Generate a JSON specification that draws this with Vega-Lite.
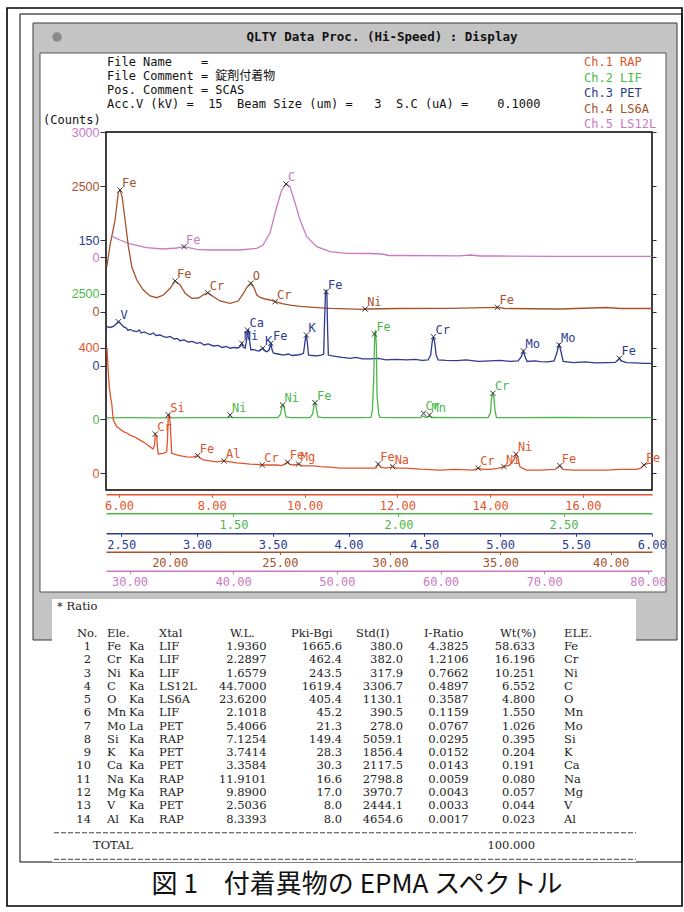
{
"$schema": "https://vega.github.io/schema/vega-lite/v6.json",
"width": 546, "height": 358,
"autosize": {"type": "none"},
"padding": {"left": 106, "top": 132, "right": 32, "bottom": 422},
"background": "white",
"config": {"view": {"stroke": null}},
"resolve": {"scale": {"x": "independent", "y": "independent", "color": "independent"}, "axis": {"x": "independent", "y": "independent"}},
"layer": [
{"data": {"values": [{}]}, "mark": {"type": "rect", "x": -99, "y": -124, "x2": 576, "y2": 774, "fillOpacity": 0, "stroke": "#000", "strokeWidth": 1.6}, "encoding": {}},
{"data": {"values": [{}]}, "mark": {"type": "rect", "x": -86, "y": -118, "x2": 576, "y2": 730, "fillOpacity": 0, "stroke": "#000", "strokeWidth": 1}, "encoding": {}},
{"data": {"values": [{}]}, "mark": {"type": "rect", "x": -73, "y": -109, "x2": 571, "y2": 508, "fill": "#c4c4c4", "stroke": "#3a3a3a", "strokeWidth": 1}, "encoding": {}},
{"data": {"values": [{}]}, "mark": {"type": "rule", "x": -73, "x2": 571, "y": -80, "y2": -80, "color": "#777", "strokeWidth": 1}, "encoding": {}},
{"data": {"values": [{}]}, "mark": {"type": "rect", "x": -66, "y": -79, "x2": 560, "y2": 460, "fill": "white", "stroke": "#555", "strokeWidth": 1}, "encoding": {}},
{"data": {"values": [{}]}, "mark": {"type": "point", "shape": "circle", "x": -49, "y": -95, "size": 90, "filled": true, "color": "#8a8a8a", "opacity": 1}, "encoding": {}},
{"data": {"values": [{}]}, "mark": {"type": "rect", "x": -54, "y": 467, "x2": 530, "y2": 730, "fill": "white"}, "encoding": {}},
{"data": {"values": [{}]}, "mark": {"type": "rule", "x": -99, "x2": 576, "y": 730, "y2": 730, "color": "#000", "strokeWidth": 1.4}, "encoding": {}},
{"data": {"values": [{}]}, "mark": {"type": "rule", "x": -99, "x2": 576, "y": 734, "y2": 734, "color": "#000", "strokeWidth": 1.4}, "encoding": {}},
{"data": {"values": [{}]}, "mark": {"type": "rect", "x": 0, "y": 0, "x2": 546, "y2": 358, "fill": "white", "stroke": "#000", "strokeWidth": 1.5}, "encoding": {}},

{"data": {"values": [{"cnt": 0}]}, "mark": {"type": "point", "opacity": 0},
 "encoding": {"y": {"field": "cnt", "type": "quantitative", "scale": {"domain": [-5592, 3000], "nice": false, "zero": false}, "axis": {"orient": "right", "values": [0, 3000], "labels": false, "domain": false, "grid": false, "title": null, "tickColor": "#333", "tickSize": 4, "zindex": 2}}}},
{"data": {"values": [{"cnt": 0}]}, "mark": {"type": "point", "opacity": 0},
 "encoding": {"y": {"field": "cnt", "type": "quantitative", "scale": {"domain": [-3545.8, 3585.6], "nice": false, "zero": false}, "axis": {"orient": "right", "values": [0, 2500], "labels": false, "domain": false, "grid": false, "title": null, "tickColor": "#333", "tickSize": 4, "zindex": 2}}}},
{"data": {"values": [{"cnt": 0}]}, "mark": {"type": "point", "opacity": 0},
 "encoding": {"y": {"field": "cnt", "type": "quantitative", "scale": {"domain": [-148.2, 279.6], "nice": false, "zero": false}, "axis": {"orient": "right", "values": [0, 150], "labels": false, "domain": false, "grid": false, "title": null, "tickColor": "#333", "tickSize": 4, "zindex": 2}}}},
{"data": {"values": [{"cnt": 0}]}, "mark": {"type": "point", "opacity": 0},
 "encoding": {"y": {"field": "cnt", "type": "quantitative", "scale": {"domain": [-1404.4, 5727], "nice": false, "zero": false}, "axis": {"orient": "right", "values": [0, 2500], "labels": false, "domain": false, "grid": false, "title": null, "tickColor": "#333", "tickSize": 4, "zindex": 2}}}},
{"data": {"values": [{"cnt": 0}]}, "mark": {"type": "point", "opacity": 0},
 "encoding": {"y": {"field": "cnt", "type": "quantitative", "scale": {"domain": [-52.4, 1084.3], "nice": false, "zero": false}, "axis": {"orient": "right", "values": [0, 400], "labels": false, "domain": false, "grid": false, "title": null, "tickColor": "#333", "tickSize": 4, "zindex": 2}}}},

{"encoding": {
  "x": {"field": "wl", "type": "quantitative", "scale": {"domain": [27.73, 80.4], "nice": false, "zero": false},
        "axis": {"orient": "bottom", "offset": 80.7, "values": [30, 40, 50, 60, 70, 80], "format": ".2f", "title": null, "grid": false, "domainColor": "#c97ac4", "domainWidth": 1.5, "tickColor": "#c97ac4", "tickSize": 3, "labelColor": "#c97ac4", "labelFont": "DejaVu Sans Mono", "labelFontSize": 12, "labelPadding": 3, "labelFlush": false, "labelOverlap": false, "zindex": 2}},
  "y": {"field": "cnt", "type": "quantitative", "scale": {"domain": [-5592, 3000], "nice": false, "zero": false},
        "axis": {"orient": "left", "values": [0, 3000], "format": "d", "title": null, "grid": false, "domain": false, "tickColor": "#333", "tickSize": 6, "labelColor": "#c97ac4", "labelFont": "Liberation Sans", "labelFontSize": 12.5, "labelPadding": 1, "labelFlush": false, "labelOverlap": false, "zindex": 2}}},
 "layer": [
  {"data": {"values": [
   {"wl":28.38,"cnt":487},{"wl":29.08,"cnt":408},{"wl":30.05,"cnt":312},{"wl":31.66,"cnt":223},{"wl":33.23,"cnt":192},{"wl":34.55,"cnt":216},{"wl":35.26,"cnt":247},{"wl":36.48,"cnt":185},{"wl":37.77,"cnt":168},{"wl":39.70,"cnt":168},{"wl":40.66,"cnt":168},{"wl":42.27,"cnt":209},{"wl":42.88,"cnt":288},{"wl":43.55,"cnt":576},{"wl":44.20,"cnt":1207},{"wl":44.68,"cnt":1608},{"wl":45.10,"cnt":1752},{"wl":45.48,"cnt":1687},{"wl":45.97,"cnt":1296},{"wl":46.45,"cnt":888},{"wl":47.09,"cnt":487},{"wl":48.06,"cnt":247},{"wl":49.34,"cnt":127},{"wl":50.95,"cnt":89},{"wl":53.2,"cnt":84},{"wl":54.36,"cnt":72},{"wl":55.0,"cnt":36},{"wl":56.09,"cnt":36},{"wl":61.88,"cnt":29},{"wl":62.85,"cnt":48},{"wl":63.8,"cnt":24},{"wl":65.73,"cnt":24},{"wl":71.5,"cnt":17},{"wl":77.3,"cnt":17},{"wl":80.4,"cnt":17}]},
   "mark": {"type": "line", "color": "#c97ac4", "strokeWidth": 1.3}},
  {"data": {"values": [{"wl":35.258,"cnt":247,"el":"Fe"},{"wl":45.098,"cnt":1752,"el":"C"}]},
   "layer": [
    {"mark": {"type": "point", "shape": "M-1,-1L1,1M-1,1L1,-1", "filled": false, "stroke": "#333", "strokeWidth": 1, "size": 28, "opacity": 1}},
    {"mark": {"type": "text", "align": "left", "baseline": "middle", "dx": 2, "dy": -7, "font": "DejaVu Sans Mono", "fontSize": 12, "color": "#c97ac4"}, "encoding": {"text": {"field": "el"}}}]}
 ]},

{"encoding": {
  "x": {"field": "wl", "type": "quantitative", "scale": {"domain": [17.11, 41.88], "nice": false, "zero": false},
        "axis": {"orient": "bottom", "offset": 61.7, "values": [20, 25, 30, 35, 40], "format": ".2f", "title": null, "grid": false, "domainColor": "#a5532c", "domainWidth": 1.5, "tickColor": "#a5532c", "tickSize": 3, "labelColor": "#a5532c", "labelFont": "DejaVu Sans Mono", "labelFontSize": 12, "labelPadding": 3, "labelFlush": false, "labelOverlap": false, "zindex": 2}},
  "y": {"field": "cnt", "type": "quantitative", "scale": {"domain": [-3545.8, 3585.6], "nice": false, "zero": false},
        "axis": {"orient": "left", "values": [0, 2500], "format": "d", "title": null, "grid": false, "domain": false, "tickColor": "#333", "tickSize": 6, "labelColor": "#a5532c", "labelFont": "Liberation Sans", "labelFontSize": 12.5, "labelPadding": 1, "labelFlush": false, "labelOverlap": false, "zindex": 2}}},
 "layer": [
  {"data": {"values": [
   {"wl":17.146,"cnt":902},{"wl":17.296,"cnt":1335},{"wl":17.523,"cnt":1833},{"wl":17.672,"cnt":2396},{"wl":17.75,"cnt":2430},{"wl":17.84,"cnt":2297},{"wl":17.976,"cnt":1833},{"wl":18.126,"cnt":1301},{"wl":18.28,"cnt":902},{"wl":18.507,"cnt":637},{"wl":18.807,"cnt":438},{"wl":19.111,"cnt":319},{"wl":19.415,"cnt":285},{"wl":19.714,"cnt":339},{"wl":20.018,"cnt":472},{"wl":20.245,"cnt":618},{"wl":20.472,"cnt":538},{"wl":20.699,"cnt":373},{"wl":21.003,"cnt":273},{"wl":21.302,"cnt":279},{"wl":21.515,"cnt":339},{"wl":21.729,"cnt":384},{"wl":21.983,"cnt":305},{"wl":22.287,"cnt":219},{"wl":22.74,"cnt":173},{"wl":23.103,"cnt":219},{"wl":23.33,"cnt":359},{"wl":23.512,"cnt":498},{"wl":23.68,"cnt":572},{"wl":23.829,"cnt":478},{"wl":23.952,"cnt":339},{"wl":24.102,"cnt":289},{"wl":24.328,"cnt":259},{"wl":24.555,"cnt":239},{"wl":24.782,"cnt":205},{"wl":25.1,"cnt":169},{"wl":25.463,"cnt":139},{"wl":25.917,"cnt":114},{"wl":26.52,"cnt":94},{"wl":27.278,"cnt":74},{"wl":28.775,"cnt":54},{"wl":28.866,"cnt":60},{"wl":30.454,"cnt":70},{"wl":32.722,"cnt":74},{"wl":34.868,"cnt":94},{"wl":35.218,"cnt":70},{"wl":37.713,"cnt":60},{"wl":39.832,"cnt":90},{"wl":40.436,"cnt":70},{"wl":41.887,"cnt":70}]},
   "mark": {"type": "line", "color": "#a5532c", "strokeWidth": 1.3}},
  {"data": {"values": [{"wl":17.75,"cnt":2430,"el":"Fe"},{"wl":20.245,"cnt":618,"el":"Fe"},{"wl":21.729,"cnt":384,"el":"Cr"},{"wl":23.68,"cnt":572,"el":"O"},{"wl":24.782,"cnt":205,"el":"Cr"},{"wl":28.866,"cnt":60,"el":"Ni"},{"wl":34.868,"cnt":94,"el":"Fe"}]},
   "layer": [
    {"mark": {"type": "point", "shape": "M-1,-1L1,1M-1,1L1,-1", "filled": false, "stroke": "#333", "strokeWidth": 1, "size": 28, "opacity": 1}},
    {"mark": {"type": "text", "align": "left", "baseline": "middle", "dx": 2, "dy": -7, "font": "DejaVu Sans Mono", "fontSize": 12, "color": "#a5532c"}, "encoding": {"text": {"field": "el"}}}]}
 ]},

{"encoding": {
  "x": {"field": "wl", "type": "quantitative", "scale": {"domain": [2.40, 6.002], "nice": false, "zero": false},
        "axis": {"orient": "bottom", "offset": 43.3, "values": [2.5, 3, 3.5, 4, 4.5, 5, 5.5, 6], "format": ".2f", "title": null, "grid": false, "domainColor": "#2d3a8e", "domainWidth": 1.5, "tickColor": "#2d3a8e", "tickSize": 3, "labelColor": "#2d3a8e", "labelFont": "DejaVu Sans Mono", "labelFontSize": 12, "labelPadding": 3, "labelFlush": false, "labelOverlap": false, "zindex": 2}},
  "y": {"field": "cnt", "type": "quantitative", "scale": {"domain": [-148.2, 279.6], "nice": false, "zero": false},
        "axis": {"orient": "left", "values": [0, 150], "format": "d", "title": null, "grid": false, "domain": false, "tickColor": "#333", "tickSize": 6, "labelColor": "#2d3a8e", "labelFont": "Liberation Sans", "labelFontSize": 12.5, "labelPadding": 1, "labelFlush": false, "labelOverlap": false, "zindex": 2}}},
 "layer": [
  {"data": {"values": [
   {"wl":2.406,"cnt":47.0},{"wl":2.427,"cnt":46.0},{"wl":2.449,"cnt":47.2},{"wl":2.467,"cnt":50.2},{"wl":2.482,"cnt":52.9},{"wl":2.493,"cnt":51.4},{"wl":2.515,"cnt":47.0},{"wl":2.533,"cnt":45.4},{"wl":2.546,"cnt":42.4},{"wl":2.559,"cnt":43.6},{"wl":2.579,"cnt":41.8},{"wl":2.604,"cnt":41.0},{"wl":2.619,"cnt":43.0},{"wl":2.632,"cnt":39.4},{"wl":2.652,"cnt":40.6},{"wl":2.670,"cnt":39.1},{"wl":2.691,"cnt":37.6},{"wl":2.711,"cnt":39.4},{"wl":2.731,"cnt":36.4},{"wl":2.757,"cnt":37.0},{"wl":2.779,"cnt":35.0},{"wl":2.803,"cnt":34.1},{"wl":2.823,"cnt":35.3},{"wl":2.850,"cnt":32.3},{"wl":2.869,"cnt":32.9},{"wl":2.889,"cnt":30.2},{"wl":2.916,"cnt":31.1},{"wl":2.942,"cnt":28.7},{"wl":2.968,"cnt":29.3},{"wl":2.999,"cnt":27.1},{"wl":3.021,"cnt":28.1},{"wl":3.048,"cnt":25.1},{"wl":3.074,"cnt":26.3},{"wl":3.109,"cnt":23.9},{"wl":3.140,"cnt":24.5},{"wl":3.166,"cnt":22.1},{"wl":3.193,"cnt":23.3},{"wl":3.219,"cnt":21.2},{"wl":3.245,"cnt":22.1},{"wl":3.272,"cnt":21.5},{"wl":3.288,"cnt":23.9},{"wl":3.296,"cnt":27.1},{"wl":3.305,"cnt":22.7},{"wl":3.318,"cnt":21.2},{"wl":3.328,"cnt":31.1},{"wl":3.334,"cnt":41.8},{"wl":3.340,"cnt":43.0},{"wl":3.346,"cnt":31.1},{"wl":3.356,"cnt":19.1},{"wl":3.371,"cnt":19.7},{"wl":3.395,"cnt":18.3},{"wl":3.410,"cnt":17.9},{"wl":3.424,"cnt":20.3},{"wl":3.435,"cnt":21.2},{"wl":3.443,"cnt":18.5},{"wl":3.461,"cnt":17.1},{"wl":3.476,"cnt":19.1},{"wl":3.488,"cnt":27.1},{"wl":3.496,"cnt":19.1},{"wl":3.505,"cnt":15.2},{"wl":3.536,"cnt":14.3},{"wl":3.571,"cnt":13.1},{"wl":3.602,"cnt":14.3},{"wl":3.628,"cnt":12.5},{"wl":3.659,"cnt":13.1},{"wl":3.681,"cnt":13.7},{"wl":3.703,"cnt":15.2},{"wl":3.710,"cnt":25.1},{"wl":3.717,"cnt":34.7},{"wl":3.722,"cnt":37.0},{"wl":3.728,"cnt":28.7},{"wl":3.736,"cnt":13.1},{"wl":3.760,"cnt":12.5},{"wl":3.791,"cnt":12.0},{"wl":3.819,"cnt":13.1},{"wl":3.836,"cnt":14.3},{"wl":3.842,"cnt":55.0},{"wl":3.848,"cnt":87.2},{"wl":3.852,"cnt":90.8},{"wl":3.857,"cnt":87.2},{"wl":3.862,"cnt":43.0},{"wl":3.867,"cnt":13.1},{"wl":3.892,"cnt":12.0},{"wl":3.923,"cnt":11.1},{"wl":3.958,"cnt":10.2},{"wl":4.011,"cnt":9.2},{"wl":4.050,"cnt":10.2},{"wl":4.090,"cnt":8.4},{"wl":4.143,"cnt":8.4},{"wl":4.195,"cnt":9.0},{"wl":4.248,"cnt":7.2},{"wl":4.307,"cnt":7.8},{"wl":4.385,"cnt":7.2},{"wl":4.439,"cnt":7.8},{"wl":4.486,"cnt":6.6},{"wl":4.525,"cnt":7.2},{"wl":4.542,"cnt":13.1},{"wl":4.552,"cnt":28.7},{"wl":4.560,"cnt":35.0},{"wl":4.568,"cnt":28.7},{"wl":4.578,"cnt":13.1},{"wl":4.591,"cnt":7.2},{"wl":4.644,"cnt":6.6},{"wl":4.714,"cnt":6.3},{"wl":4.776,"cnt":7.2},{"wl":4.855,"cnt":5.4},{"wl":4.934,"cnt":6.0},{"wl":5.000,"cnt":6.6},{"wl":5.066,"cnt":5.4},{"wl":5.119,"cnt":6.0},{"wl":5.139,"cnt":10.8},{"wl":5.154,"cnt":17.9},{"wl":5.165,"cnt":10.8},{"wl":5.178,"cnt":5.4},{"wl":5.231,"cnt":6.0},{"wl":5.264,"cnt":5.1},{"wl":5.317,"cnt":4.8},{"wl":5.356,"cnt":6.0},{"wl":5.376,"cnt":16.7},{"wl":5.389,"cnt":27.1},{"wl":5.402,"cnt":16.7},{"wl":5.416,"cnt":5.4},{"wl":5.484,"cnt":3.9},{"wl":5.561,"cnt":4.8},{"wl":5.627,"cnt":3.6},{"wl":5.704,"cnt":3.9},{"wl":5.759,"cnt":4.2},{"wl":5.778,"cnt":7.2},{"wl":5.787,"cnt":9.2},{"wl":5.798,"cnt":6.0},{"wl":5.836,"cnt":3.9},{"wl":5.891,"cnt":3.6},{"wl":5.945,"cnt":3.2},{"wl":6.000,"cnt":3.2}]},
   "mark": {"type": "line", "color": "#2d3a8e", "strokeWidth": 1.3}},
  {"data": {"values": [{"wl":2.482,"cnt":52.9,"el":"V"},{"wl":3.296,"cnt":27.1,"el":"Ni"},{"wl":3.333,"cnt":43.0,"el":"Ca"},{"wl":3.435,"cnt":21.2,"el":"K"},{"wl":3.488,"cnt":27.1,"el":"Fe"},{"wl":3.722,"cnt":37.0,"el":"K"},{"wl":3.852,"cnt":88.8,"el":"Fe"},{"wl":4.560,"cnt":35.0,"el":"Cr"},{"wl":5.154,"cnt":17.9,"el":"Mo"},{"wl":5.389,"cnt":25.1,"el":"Mo"},{"wl":5.787,"cnt":9.2,"el":"Fe"}]},
   "layer": [
    {"mark": {"type": "point", "shape": "M-1,-1L1,1M-1,1L1,-1", "filled": false, "stroke": "#333", "strokeWidth": 1, "size": 28, "opacity": 1}},
    {"mark": {"type": "text", "align": "left", "baseline": "middle", "dx": 2, "dy": -7, "font": "DejaVu Sans Mono", "fontSize": 12, "color": "#2d3a8e"}, "encoding": {"text": {"field": "el"}}}]}
 ]},

{"encoding": {
  "x": {"field": "wl", "type": "quantitative", "scale": {"domain": [1.114, 2.768], "nice": false, "zero": false},
        "axis": {"orient": "bottom", "offset": 23.3, "values": [1.5, 2.0, 2.5], "format": ".2f", "title": null, "grid": false, "domainColor": "#4cb84a", "domainWidth": 1.5, "tickColor": "#4cb84a", "tickSize": 3, "labelColor": "#4cb84a", "labelFont": "DejaVu Sans Mono", "labelFontSize": 12, "labelPadding": 3, "labelFlush": false, "labelOverlap": false, "zindex": 2}},
  "y": {"field": "cnt", "type": "quantitative", "scale": {"domain": [-1404.4, 5727], "nice": false, "zero": false},
        "axis": {"orient": "left", "values": [0, 2500], "format": "d", "title": null, "grid": false, "domain": false, "tickColor": "#333", "tickSize": 6, "labelColor": "#4cb84a", "labelFont": "Liberation Sans", "labelFontSize": 12.5, "labelPadding": 1, "labelFlush": false, "labelOverlap": false, "zindex": 2}}},
 "layer": [
  {"data": {"values": [
   {"wl":1.116,"cnt":34},{"wl":1.187,"cnt":36},{"wl":1.278,"cnt":34},{"wl":1.399,"cnt":38},{"wl":1.487,"cnt":40},{"wl":1.490,"cnt":54},{"wl":1.493,"cnt":38},{"wl":1.581,"cnt":38},{"wl":1.635,"cnt":40},{"wl":1.643,"cnt":110},{"wl":1.647,"cnt":269},{"wl":1.651,"cnt":289},{"wl":1.655,"cnt":189},{"wl":1.659,"cnt":50},{"wl":1.672,"cnt":38},{"wl":1.732,"cnt":36},{"wl":1.740,"cnt":110},{"wl":1.745,"cnt":319},{"wl":1.748,"cnt":329},{"wl":1.752,"cnt":189},{"wl":1.756,"cnt":50},{"wl":1.769,"cnt":38},{"wl":1.823,"cnt":36},{"wl":1.884,"cnt":38},{"wl":1.917,"cnt":44},{"wl":1.921,"cnt":189},{"wl":1.925,"cnt":787},{"wl":1.928,"cnt":1703},{"wl":1.930,"cnt":1783},{"wl":1.933,"cnt":1484},{"wl":1.935,"cnt":488},{"wl":1.940,"cnt":110},{"wl":1.944,"cnt":44},{"wl":1.990,"cnt":38},{"wl":2.035,"cnt":38},{"wl":2.066,"cnt":38},{"wl":2.076,"cnt":70},{"wl":2.081,"cnt":44},{"wl":2.094,"cnt":60},{"wl":2.102,"cnt":40},{"wl":2.187,"cnt":38},{"wl":2.272,"cnt":40},{"wl":2.279,"cnt":149},{"wl":2.282,"cnt":428},{"wl":2.286,"cnt":528},{"wl":2.289,"cnt":428},{"wl":2.293,"cnt":149},{"wl":2.297,"cnt":40},{"wl":2.369,"cnt":38},{"wl":2.490,"cnt":40},{"wl":2.611,"cnt":38},{"wl":2.768,"cnt":38}]},
   "mark": {"type": "line", "color": "#4cb84a", "strokeWidth": 1.3}},
  {"data": {"values": [{"wl":1.490,"cnt":90,"el":"Ni"},{"wl":1.649,"cnt":289,"el":"Ni"},{"wl":1.747,"cnt":335,"el":"Fe"},{"wl":1.927,"cnt":1703,"el":"Fe"},{"wl":2.076,"cnt":124,"el":"Cr"},{"wl":2.094,"cnt":90,"el":"Mn"},{"wl":2.286,"cnt":522,"el":"Cr"}]},
   "layer": [
    {"mark": {"type": "point", "shape": "M-1,-1L1,1M-1,1L1,-1", "filled": false, "stroke": "#333", "strokeWidth": 1, "size": 28, "opacity": 1}},
    {"mark": {"type": "text", "align": "left", "baseline": "middle", "dx": 2, "dy": -7, "font": "DejaVu Sans Mono", "fontSize": 12, "color": "#4cb84a"}, "encoding": {"text": {"field": "el"}}}]}
 ]},

{"encoding": {
  "x": {"field": "wl", "type": "quantitative", "scale": {"domain": [5.72, 17.49], "nice": false, "zero": false},
        "axis": {"orient": "bottom", "offset": 4.3, "values": [6, 8, 10, 12, 14, 16], "format": ".2f", "title": null, "grid": false, "domainColor": "#e0552d", "domainWidth": 1.5, "tickColor": "#e0552d", "tickSize": 3, "labelColor": "#e0552d", "labelFont": "DejaVu Sans Mono", "labelFontSize": 12, "labelPadding": 3, "labelFlush": false, "labelOverlap": false, "zindex": 2}},
  "y": {"field": "cnt", "type": "quantitative", "scale": {"domain": [-52.4, 1084.3], "nice": false, "zero": false},
        "axis": {"orient": "left", "values": [0, 400], "format": "d", "title": null, "grid": false, "domain": false, "tickColor": "#333", "tickSize": 6, "labelColor": "#e0552d", "labelFont": "Liberation Sans", "labelFontSize": 12.5, "labelPadding": 1, "labelFlush": false, "labelOverlap": false, "zindex": 2}}},
 "layer": [
  {"data": {"values": [
   {"wl":5.741,"cnt":398},{"wl":5.769,"cnt":322},{"wl":5.791,"cnt":276},{"wl":5.817,"cnt":243},{"wl":5.843,"cnt":223},{"wl":5.877,"cnt":170},{"wl":5.95,"cnt":149},{"wl":6.022,"cnt":141},{"wl":6.093,"cnt":133},{"wl":6.151,"cnt":130},{"wl":6.237,"cnt":122},{"wl":6.345,"cnt":116},{"wl":6.453,"cnt":106},{"wl":6.56,"cnt":97},{"wl":6.668,"cnt":85},{"wl":6.733,"cnt":78},{"wl":6.765,"cnt":90},{"wl":6.782,"cnt":125},{"wl":6.813,"cnt":117},{"wl":6.83,"cnt":81},{"wl":6.847,"cnt":62},{"wl":6.955,"cnt":64},{"wl":7.028,"cnt":69},{"wl":7.045,"cnt":106},{"wl":7.063,"cnt":186},{"wl":7.084,"cnt":189},{"wl":7.106,"cnt":154},{"wl":7.136,"cnt":64},{"wl":7.244,"cnt":59},{"wl":7.336,"cnt":56},{"wl":7.459,"cnt":53},{"wl":7.595,"cnt":52},{"wl":7.696,"cnt":57},{"wl":7.746,"cnt":49},{"wl":7.817,"cnt":43},{"wl":7.961,"cnt":40},{"wl":8.106,"cnt":37},{"wl":8.263,"cnt":40},{"wl":8.392,"cnt":37},{"wl":8.537,"cnt":34},{"wl":8.672,"cnt":32},{"wl":8.823,"cnt":30},{"wl":8.953,"cnt":29},{"wl":9.088,"cnt":27},{"wl":9.254,"cnt":27},{"wl":9.399,"cnt":27},{"wl":9.513,"cnt":25},{"wl":9.636,"cnt":36},{"wl":9.685,"cnt":29},{"wl":9.772,"cnt":27},{"wl":9.873,"cnt":30},{"wl":9.944,"cnt":24},{"wl":10.188,"cnt":24},{"wl":10.332,"cnt":22},{"wl":10.547,"cnt":20},{"wl":10.763,"cnt":17},{"wl":11.086,"cnt":17},{"wl":11.409,"cnt":17},{"wl":11.539,"cnt":17},{"wl":11.588,"cnt":30},{"wl":11.647,"cnt":19},{"wl":11.754,"cnt":17},{"wl":11.899,"cnt":22},{"wl":11.97,"cnt":17},{"wl":12.2,"cnt":17},{"wl":12.487,"cnt":14},{"wl":12.918,"cnt":11},{"wl":13.241,"cnt":13},{"wl":13.636,"cnt":11},{"wl":13.744,"cnt":17},{"wl":13.845,"cnt":13},{"wl":13.996,"cnt":13},{"wl":14.168,"cnt":16},{"wl":14.297,"cnt":22},{"wl":14.427,"cnt":27},{"wl":14.513,"cnt":43},{"wl":14.556,"cnt":61},{"wl":14.588,"cnt":56},{"wl":14.642,"cnt":22},{"wl":14.707,"cnt":16},{"wl":14.787,"cnt":11},{"wl":15.073,"cnt":11},{"wl":15.397,"cnt":13},{"wl":15.504,"cnt":25},{"wl":15.569,"cnt":13},{"wl":15.791,"cnt":11},{"wl":16.151,"cnt":11},{"wl":16.511,"cnt":11},{"wl":16.797,"cnt":13},{"wl":17.157,"cnt":13},{"wl":17.25,"cnt":17},{"wl":17.315,"cnt":27},{"wl":17.401,"cnt":32},{"wl":17.481,"cnt":32}]},
   "mark": {"type": "line", "color": "#e0552d", "strokeWidth": 1.3}},
  {"data": {"values": [{"wl":6.782,"cnt":125,"el":"Cr"},{"wl":7.063,"cnt":186,"el":"Si"},{"wl":7.696,"cnt":57,"el":"Fe"},{"wl":8.263,"cnt":40,"el":"Al"},{"wl":9.088,"cnt":27,"el":"Cr"},{"wl":9.636,"cnt":36,"el":"Fe"},{"wl":9.873,"cnt":30,"el":"Mg"},{"wl":11.588,"cnt":30,"el":"Fe"},{"wl":11.899,"cnt":22,"el":"Na"},{"wl":13.744,"cnt":17,"el":"Cr"},{"wl":14.297,"cnt":22,"el":"Ni"},{"wl":14.556,"cnt":61,"el":"Ni"},{"wl":15.504,"cnt":25,"el":"Fe"},{"wl":17.315,"cnt":27,"el":"Fe"}]},
   "layer": [
    {"mark": {"type": "point", "shape": "M-1,-1L1,1M-1,1L1,-1", "filled": false, "stroke": "#333", "strokeWidth": 1, "size": 28, "opacity": 1}},
    {"mark": {"type": "text", "align": "left", "baseline": "middle", "dx": 2, "dy": -7, "font": "DejaVu Sans Mono", "fontSize": 12, "color": "#e0552d"}, "encoding": {"text": {"field": "el"}}}]}
 ]},

{"data": {"values": [{"t": "QLTY Data Proc. (Hi-Speed) : Display"}]},
 "mark": {"type": "text", "x": 276, "y": -95, "align": "center", "baseline": "middle", "font": "DejaVu Sans Mono", "fontSize": 12.5, "fontWeight": "bold", "color": "#111"},
 "encoding": {"text": {"field": "t"}}},

{"data": {"values": [
  {"i": 0, "t": "File\u00a0Name\u00a0\u00a0\u00a0\u00a0="},
  {"i": 1, "t": "File\u00a0Comment\u00a0=\u00a0錠剤付着物"},
  {"i": 2, "t": "Pos.\u00a0Comment\u00a0=\u00a0SCAS"},
  {"i": 3, "t": "Acc.V\u00a0(kV)\u00a0=\u00a0\u00a015\u00a0\u00a0Beam\u00a0Size\u00a0(um)\u00a0=\u00a0\u00a0\u00a03\u00a0\u00a0S.C\u00a0(uA)\u00a0=\u00a0\u00a0\u00a0\u00a00.1000"}]},
 "mark": {"type": "text", "x": 1, "align": "left", "baseline": "middle", "font": "DejaVu Sans Mono, Noto Sans CJK JP", "fontSize": 12, "color": "#111"},
 "encoding": {"y": {"field": "i", "type": "quantitative", "scale": {"domain": [0, 3], "range": [-70, -28], "nice": false, "zero": false}, "axis": null},
              "text": {"field": "t"}}},

{"data": {"values": [
  {"i": 1, "ch": "Ch.1", "t": "Ch.1\u00a0RAP"},
  {"i": 2, "ch": "Ch.2", "t": "Ch.2\u00a0LIF"},
  {"i": 3, "ch": "Ch.3", "t": "Ch.3\u00a0PET"},
  {"i": 4, "ch": "Ch.4", "t": "Ch.4\u00a0LS6A"},
  {"i": 5, "ch": "Ch.5", "t": "Ch.5\u00a0LS12L"}]},
 "mark": {"type": "text", "x": 478, "align": "left", "baseline": "middle", "font": "DejaVu Sans Mono", "fontSize": 12},
 "encoding": {"y": {"field": "i", "type": "quantitative", "scale": {"domain": [1, 5], "range": [-70, -8], "nice": false, "zero": false}, "axis": null},
              "color": {"field": "ch", "type": "nominal", "scale": {"domain": ["Ch.1", "Ch.2", "Ch.3", "Ch.4", "Ch.5"], "range": ["#e0552d", "#4cb84a", "#2d3a8e", "#a5532c", "#c97ac4"]}, "legend": null},
              "text": {"field": "t"}}},

{"data": {"values": [{"t": "(Counts)"}]},
 "mark": {"type": "text", "x": -63, "y": -12, "align": "left", "baseline": "middle", "font": "DejaVu Sans Mono", "fontSize": 12, "color": "#111"},
 "encoding": {"text": {"field": "t"}}},

{"data": {"values": [
  {"r": -2, "c": 10, "t": "* Ratio"},
  {"r": 0, "c": 0, "t": "No."}, {"r": 0, "c": 1, "t": "Ele."}, {"r": 0, "c": 3, "t": "Xtal"}, {"r": 0, "c": 4, "t": "W.L."}, {"r": 0, "c": 5, "t": "Pki-Bgi"}, {"r": 0, "c": 6, "t": "Std(I)"}, {"r": 0, "c": 7, "t": "I-Ratio"}, {"r": 0, "c": 8, "t": "Wt(%)"}, {"r": 0, "c": 9, "t": "ELE."},
  {"r": 1, "c": 1, "t": "Fe"}, {"r": 1, "c": 2, "t": "Ka"}, {"r": 1, "c": 3, "t": "LIF"}, {"r": 1, "c": 9, "t": "Fe"},
  {"r": 2, "c": 1, "t": "Cr"}, {"r": 2, "c": 2, "t": "Ka"}, {"r": 2, "c": 3, "t": "LIF"}, {"r": 2, "c": 9, "t": "Cr"},
  {"r": 3, "c": 1, "t": "Ni"}, {"r": 3, "c": 2, "t": "Ka"}, {"r": 3, "c": 3, "t": "LIF"}, {"r": 3, "c": 9, "t": "Ni"},
  {"r": 4, "c": 1, "t": "C"}, {"r": 4, "c": 2, "t": "Ka"}, {"r": 4, "c": 3, "t": "LS12L"}, {"r": 4, "c": 9, "t": "C"},
  {"r": 5, "c": 1, "t": "O"}, {"r": 5, "c": 2, "t": "Ka"}, {"r": 5, "c": 3, "t": "LS6A"}, {"r": 5, "c": 9, "t": "O"},
  {"r": 6, "c": 1, "t": "Mn"}, {"r": 6, "c": 2, "t": "Ka"}, {"r": 6, "c": 3, "t": "LIF"}, {"r": 6, "c": 9, "t": "Mn"},
  {"r": 7, "c": 1, "t": "Mo"}, {"r": 7, "c": 2, "t": "La"}, {"r": 7, "c": 3, "t": "PET"}, {"r": 7, "c": 9, "t": "Mo"},
  {"r": 8, "c": 1, "t": "Si"}, {"r": 8, "c": 2, "t": "Ka"}, {"r": 8, "c": 3, "t": "RAP"}, {"r": 8, "c": 9, "t": "Si"},
  {"r": 9, "c": 1, "t": "K"}, {"r": 9, "c": 2, "t": "Ka"}, {"r": 9, "c": 3, "t": "PET"}, {"r": 9, "c": 9, "t": "K"},
  {"r": 10, "c": 1, "t": "Ca"}, {"r": 10, "c": 2, "t": "Ka"}, {"r": 10, "c": 3, "t": "PET"}, {"r": 10, "c": 9, "t": "Ca"},
  {"r": 11, "c": 1, "t": "Na"}, {"r": 11, "c": 2, "t": "Ka"}, {"r": 11, "c": 3, "t": "RAP"}, {"r": 11, "c": 9, "t": "Na"},
  {"r": 12, "c": 1, "t": "Mg"}, {"r": 12, "c": 2, "t": "Ka"}, {"r": 12, "c": 3, "t": "RAP"}, {"r": 12, "c": 9, "t": "Mg"},
  {"r": 13, "c": 1, "t": "V"}, {"r": 13, "c": 2, "t": "Ka"}, {"r": 13, "c": 3, "t": "PET"}, {"r": 13, "c": 9, "t": "V"},
  {"r": 14, "c": 1, "t": "Al"}, {"r": 14, "c": 2, "t": "Ka"}, {"r": 14, "c": 3, "t": "RAP"}, {"r": 14, "c": 9, "t": "Al"},
  {"r": 16, "c": 11, "t": "TOTAL"}]},
 "mark": {"type": "text", "align": "left", "baseline": "middle", "font": "DejaVu Serif", "fontSize": 11.5, "color": "#222"},
 "encoding": {
  "x": {"field": "c", "type": "quantitative", "scale": {"domain": [0, 1, 2, 3, 4, 5, 6, 7, 8, 9, 10, 11], "range": [-29, 1, 23, 53, 124, 185, 250, 318, 394, 458, -49, -13], "nice": false, "zero": false}, "axis": null},
  "y": {"field": "r", "type": "quantitative", "scale": {"domain": [1, 14], "range": [515, 687.5], "nice": false, "zero": false}, "axis": null},
  "text": {"field": "t"}}},

{"data": {"values": [
  {"r": 1, "c": 0, "t": "1"}, {"r": 1, "c": 1, "t": "1.9360"}, {"r": 1, "c": 2, "t": "1665.6"}, {"r": 1, "c": 3, "t": "380.0"}, {"r": 1, "c": 4, "t": "4.3825"}, {"r": 1, "c": 5, "t": "58.633"},
  {"r": 2, "c": 0, "t": "2"}, {"r": 2, "c": 1, "t": "2.2897"}, {"r": 2, "c": 2, "t": "462.4"}, {"r": 2, "c": 3, "t": "382.0"}, {"r": 2, "c": 4, "t": "1.2106"}, {"r": 2, "c": 5, "t": "16.196"},
  {"r": 3, "c": 0, "t": "3"}, {"r": 3, "c": 1, "t": "1.6579"}, {"r": 3, "c": 2, "t": "243.5"}, {"r": 3, "c": 3, "t": "317.9"}, {"r": 3, "c": 4, "t": "0.7662"}, {"r": 3, "c": 5, "t": "10.251"},
  {"r": 4, "c": 0, "t": "4"}, {"r": 4, "c": 1, "t": "44.7000"}, {"r": 4, "c": 2, "t": "1619.4"}, {"r": 4, "c": 3, "t": "3306.7"}, {"r": 4, "c": 4, "t": "0.4897"}, {"r": 4, "c": 5, "t": "6.552"},
  {"r": 5, "c": 0, "t": "5"}, {"r": 5, "c": 1, "t": "23.6200"}, {"r": 5, "c": 2, "t": "405.4"}, {"r": 5, "c": 3, "t": "1130.1"}, {"r": 5, "c": 4, "t": "0.3587"}, {"r": 5, "c": 5, "t": "4.800"},
  {"r": 6, "c": 0, "t": "6"}, {"r": 6, "c": 1, "t": "2.1018"}, {"r": 6, "c": 2, "t": "45.2"}, {"r": 6, "c": 3, "t": "390.5"}, {"r": 6, "c": 4, "t": "0.1159"}, {"r": 6, "c": 5, "t": "1.550"},
  {"r": 7, "c": 0, "t": "7"}, {"r": 7, "c": 1, "t": "5.4066"}, {"r": 7, "c": 2, "t": "21.3"}, {"r": 7, "c": 3, "t": "278.0"}, {"r": 7, "c": 4, "t": "0.0767"}, {"r": 7, "c": 5, "t": "1.026"},
  {"r": 8, "c": 0, "t": "8"}, {"r": 8, "c": 1, "t": "7.1254"}, {"r": 8, "c": 2, "t": "149.4"}, {"r": 8, "c": 3, "t": "5059.1"}, {"r": 8, "c": 4, "t": "0.0295"}, {"r": 8, "c": 5, "t": "0.395"},
  {"r": 9, "c": 0, "t": "9"}, {"r": 9, "c": 1, "t": "3.7414"}, {"r": 9, "c": 2, "t": "28.3"}, {"r": 9, "c": 3, "t": "1856.4"}, {"r": 9, "c": 4, "t": "0.0152"}, {"r": 9, "c": 5, "t": "0.204"},
  {"r": 10, "c": 0, "t": "10"}, {"r": 10, "c": 1, "t": "3.3584"}, {"r": 10, "c": 2, "t": "30.3"}, {"r": 10, "c": 3, "t": "2117.5"}, {"r": 10, "c": 4, "t": "0.0143"}, {"r": 10, "c": 5, "t": "0.191"},
  {"r": 11, "c": 0, "t": "11"}, {"r": 11, "c": 1, "t": "11.9101"}, {"r": 11, "c": 2, "t": "16.6"}, {"r": 11, "c": 3, "t": "2798.8"}, {"r": 11, "c": 4, "t": "0.0059"}, {"r": 11, "c": 5, "t": "0.080"},
  {"r": 12, "c": 0, "t": "12"}, {"r": 12, "c": 1, "t": "9.8900"}, {"r": 12, "c": 2, "t": "17.0"}, {"r": 12, "c": 3, "t": "3970.7"}, {"r": 12, "c": 4, "t": "0.0043"}, {"r": 12, "c": 5, "t": "0.057"},
  {"r": 13, "c": 0, "t": "13"}, {"r": 13, "c": 1, "t": "2.5036"}, {"r": 13, "c": 2, "t": "8.0"}, {"r": 13, "c": 3, "t": "2444.1"}, {"r": 13, "c": 4, "t": "0.0033"}, {"r": 13, "c": 5, "t": "0.044"},
  {"r": 14, "c": 0, "t": "14"}, {"r": 14, "c": 1, "t": "8.3393"}, {"r": 14, "c": 2, "t": "8.0"}, {"r": 14, "c": 3, "t": "4654.6"}, {"r": 14, "c": 4, "t": "0.0017"}, {"r": 14, "c": 5, "t": "0.023"},
  {"r": 16, "c": 5, "t": "100.000"}]},
 "mark": {"type": "text", "align": "right", "baseline": "middle", "font": "DejaVu Serif", "fontSize": 11.5, "color": "#222"},
 "encoding": {
  "x": {"field": "c", "type": "quantitative", "scale": {"domain": [0, 1, 2, 3, 4, 5], "range": [-15, 160.5, 236, 297, 362.6, 429], "nice": false, "zero": false}, "axis": null},
  "y": {"field": "r", "type": "quantitative", "scale": {"domain": [1, 14], "range": [515, 687.5], "nice": false, "zero": false}, "axis": null},
  "text": {"field": "t"}}},

{"data": {"values": [{"r": 15}, {"r": 17}]},
 "mark": {"type": "rule", "x": -52, "x2": 530, "color": "#444", "strokeWidth": 1, "strokeDash": [5, 2]},
 "encoding": {"y": {"field": "r", "type": "quantitative", "scale": {"domain": [1, 14], "range": [515, 687.5], "nice": false, "zero": false}, "axis": null}}},

{"data": {"values": [{"t": "図 1\u3000付着異物の EPMA スペクトル"}]},
 "mark": {"type": "text", "x": 251, "y": 753, "align": "center", "baseline": "middle", "font": "Noto Sans CJK JP", "fontSize": 26, "color": "#111"},
 "encoding": {"text": {"field": "t"}}}
]
}
